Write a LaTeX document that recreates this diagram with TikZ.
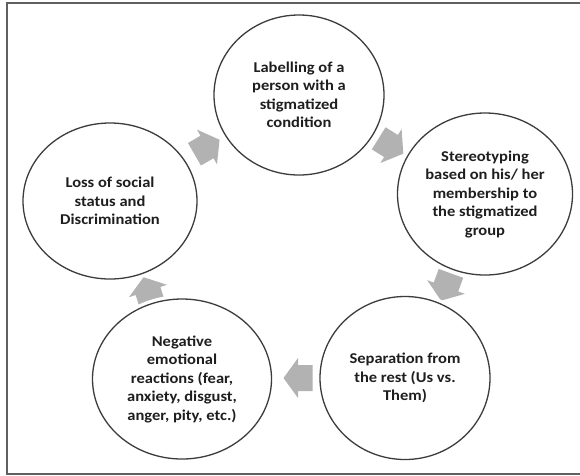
\documentclass[tikz,border=0pt]{standalone}
\usepackage{fontspec}
\setmainfont{Carlito}[FakeStretch=1.1]
\usetikzlibrary{shapes.geometric}
\definecolor{ringline}{RGB}{60,60,60}
\definecolor{flowgray}{RGB}{178,178,178}
\definecolor{framegray}{RGB}{96,96,96}
\definecolor{labeltext}{RGB}{30,30,30}
\begin{document}
\begin{tikzpicture}[x=1pt,y=-1pt,
  stage/.style={ellipse, draw=ringline, line width=1.3pt, fill=white,
    preaction={draw=white, line width=8pt},
    inner sep=0pt, align=center, text=labeltext,
    font=\bfseries\fontsize{15}{18.5}\selectfont},
  flow/.style={fill=flowgray, draw=none}]
\useasboundingbox (0,0) rectangle (580,475);
\fill[white] (0,0) rectangle (580,475);
% outer frame (open on the right)
\draw[framegray, line width=2pt] (580,3) -- (7,3) -- (7,474) -- (580,474);

% block arrows of the cycle, behind the circles
\coordinate (f1) at (207,147);
\coordinate (f2) at (391,146);
\coordinate (f3) at (446,287);
\coordinate (f4) at (298,378);
\coordinate (f5) at (148,291);
\foreach \p/\a in {f1/30, f2/-32, f3/-110, f4/180, f5/108}
  \fill[flow, shift={(\p)}, rotate=\a]
    (-14.5,-13) -- (0,-13) -- (0,-20) -- (14.5,0) -- (0,20) -- (0,13)
    -- (-14.5,13) -- cycle;

% stages of the cycle
\node[stage, minimum width=170pt, minimum height=160pt] (label) at (299,95)
  {Labelling of a\\person with a\\stigmatized\\condition};
\node[stage, minimum width=175pt, minimum height=162pt] (stereo) at (485,194)
  {Stereotyping\\based on his/ her\\membership to\\the stigmatized\\group};
\node[stage, minimum width=170pt, minimum height=163pt] (separ) at (405,378)
  {Separation from\\the rest (Us vs.\\Them)};
\node[stage, minimum width=179pt, minimum height=160pt] (emot) at (182,379)
  {Negative\\emotional\\reactions (fear,\\anxiety, disgust,\\anger, pity, etc.)};
\node[stage, minimum width=174pt, minimum height=156pt] (loss) at (110,201)
  {Loss of social\\status and\\Discrimination};
\end{tikzpicture}
\end{document}
